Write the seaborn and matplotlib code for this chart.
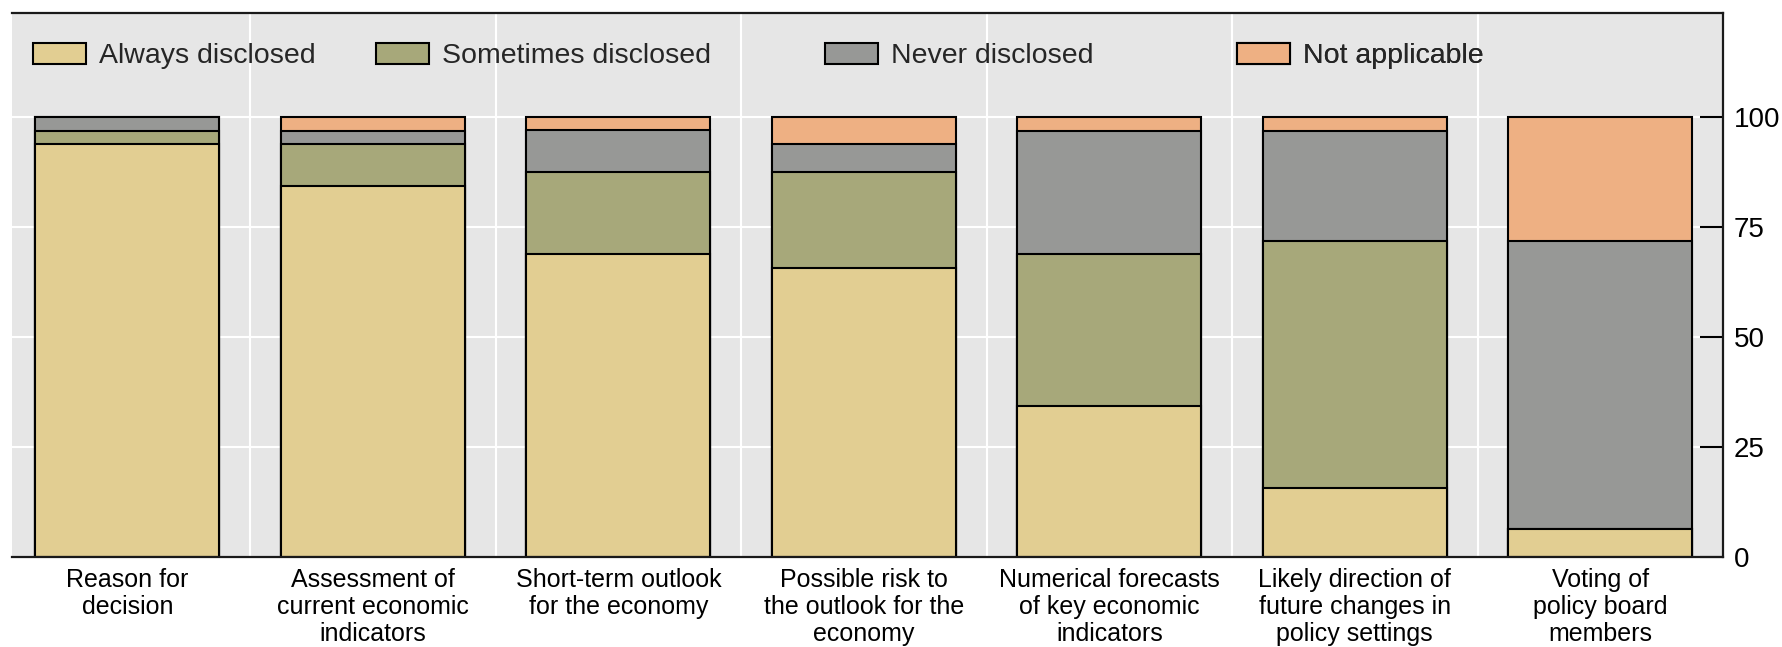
import numpy as np
import pandas as pd
import matplotlib
matplotlib.use("Agg")
import matplotlib.pyplot as plt
import seaborn as sns
from matplotlib.patches import Patch

# ---------------- data ----------------
categories = [
    "Reason for\ndecision",
    "Assessment of\ncurrent economic\nindicators",
    "Short-term outlook\nfor the economy",
    "Possible risk to\nthe outlook for the\neconomy",
    "Numerical forecasts\nof key economic\nindicators",
    "Likely direction of\nfuture changes in\npolicy settings",
    "Voting of\npolicy board\nmembers",
]
series_names = ["Always disclosed", "Sometimes disclosed", "Never disclosed", "Not applicable"]
always = [93.8, 84.4, 68.8, 65.6, 34.4, 15.6, 6.3]
sometimes = [3.1, 9.4, 18.8, 21.9, 34.4, 56.3, 0.0]
never = [3.1, 3.1, 9.4, 6.3, 28.1, 25.0, 65.6]
not_applicable = [0.0, 3.1, 3.1, 6.3, 3.1, 3.1, 28.1]
yticks = [0, 25, 50, 75, 100]

colors = ["#E2CE92", "#A7A87A", "#979896", "#EEB083"]

# ---------------- style ----------------
sns.set_style("white")
plt.rcParams['font.family'] = ['Liberation Sans', 'DejaVu Sans']

W, H = 1783, 647
fig = plt.figure(figsize=(W / 100, H / 100), dpi=100)
ax = fig.add_axes([12 / W, 1 - 557 / H, 1711 / W, 544.3 / H])
ax.set_facecolor("#E6E6E6")

df = pd.DataFrame({
    "category": categories,
    series_names[0]: always,
    series_names[1]: sometimes,
    series_names[2]: never,
    series_names[3]: not_applicable,
})
cum = df[series_names].cumsum(axis=1)
cum["category"] = categories

# draw cumulative layers from the top down so boundaries show
for name, color in reversed(list(zip(series_names, colors))):
    sns.barplot(data=cum, x="category", y=name, order=categories, color=color,
                saturation=1, width=0.75, edgecolor="black", linewidth=1.5,
                errorbar=None, ax=ax)

ax.set_xlim(-0.47, 6.5)
ax.set_ylim(0, 123.7)
ax.set_xlabel("")
ax.set_ylabel("")

# y axis on the right
ax.yaxis.tick_right()
ax.set_yticks(yticks)
ax.tick_params(axis="y", which="major", direction="in", length=16.5, width=1.5,
               pad=8, labelsize=20, colors="black", right=True, left=False)
# x axis
ax.set_xticks(range(len(categories)))
ax.set_xticklabels(categories, fontsize=18, linespacing=1.15, ha="center")
ax.tick_params(axis="x", which="major", length=0, pad=8, colors="black")
ax.set_xticks(np.arange(0.5, len(categories) - 1, 1), minor=True)
ax.tick_params(axis="x", which="minor", length=0)

# grid
ax.set_axisbelow(True)
ax.grid(False)
ax.grid(which="minor", axis="x", color="white", linewidth=1.5)
ax.grid(which="major", axis="y", color="white", linewidth=1.5)

# spines
ax.spines["left"].set_visible(False)
for s in ["top", "right", "bottom"]:
    ax.spines[s].set_visible(True)
    ax.spines[s].set_color("#1a1a1a")
    ax.spines[s].set_linewidth(1.6)

# legend entries placed individually across the top
legend_x = [0.0123, 0.2127, 0.4752, 0.716]
for name, color, lx in zip(series_names, colors, legend_x):
    leg = ax.legend(handles=[Patch(facecolor=color, edgecolor="black", linewidth=1.5, label=name)],
                    loc="center left", bbox_to_anchor=(lx, 0.9204), frameon=False,
                    fontsize=20.5, handlelength=1.86, handleheight=0.77,
                    handletextpad=0.45, borderpad=0, borderaxespad=0)
    ax.add_artist(leg)

fig.savefig("out.png", dpi=100)
